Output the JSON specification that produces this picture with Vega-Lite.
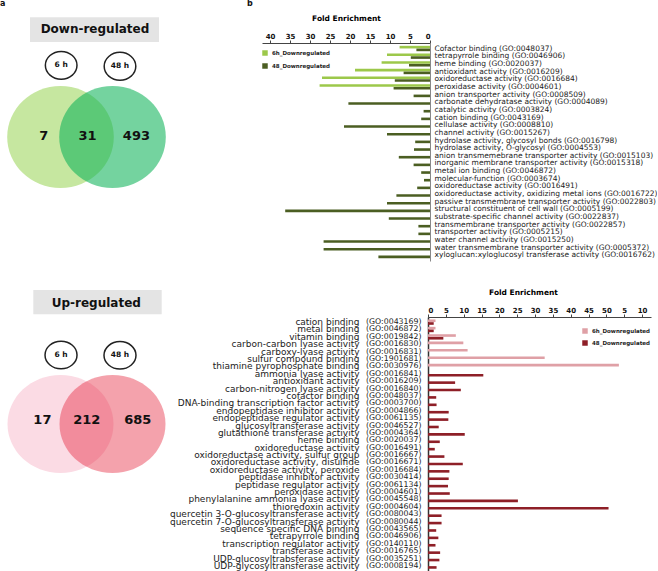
{
  "$schema": "https://vega.github.io/schema/vega-lite/v6.json",
  "padding": 0,
  "background": "white",
  "spacing": 18,
  "config": {"view": {"stroke": null}, "font": "DejaVu Sans"},
  "resolve": {"scale": {"color": "independent"}, "legend": {"color": "independent"}},
  "datasets": {
    "venn_down": [
      {"kind": "box", "x": -1.0865, "x2": 1.394, "y": 2.302, "y2": 1.827},
      {"kind": "title", "label": "Down-regulated", "x": 0.163, "y": 2.071},
      {"kind": "panel", "label": "a", "x": -1.6635, "y": 2.6346},
      {"kind": "panel", "label": "b", "x": 3.087, "y": 2.6346},
      {"kind": "oval", "label": "6 h", "x": -0.487, "y": 1.379},
      {"kind": "oval", "label": "48 h", "x": 0.644, "y": 1.36},
      {"kind": "setL", "label": "6 h", "x": -0.5, "y": 0},
      {"kind": "setR", "label": "48 h", "x": 0.5, "y": 0},
      {"kind": "count", "label": "7", "x": -0.823, "y": 0.019},
      {"kind": "count", "label": "31", "x": 0.019, "y": 0.019},
      {"kind": "count", "label": "493", "x": 0.96, "y": 0.019}
    ],
    "venn_up": [
      {"kind": "box", "x": -1.023, "x2": 1.446, "y": 2.577, "y2": 2.11},
      {"kind": "title", "label": "Up-regulated", "x": 0.188, "y": 2.333},
      {"kind": "oval", "label": "6 h", "x": -0.49, "y": 1.327},
      {"kind": "oval", "label": "48 h", "x": 0.644, "y": 1.321},
      {"kind": "setL", "label": "6 h", "x": -0.5, "y": 0},
      {"kind": "setR", "label": "48 h", "x": 0.5, "y": 0},
      {"kind": "count", "label": "17", "x": -0.848, "y": 0.077},
      {"kind": "count", "label": "212", "x": 0.004, "y": 0.077},
      {"kind": "count", "label": "685", "x": 0.987, "y": 0.077}
    ],
    "go_down": [
      {"term": "Cofactor binding (GO:0048037)", "series": "6h_Downregulated", "fe": 7.6},
      {"term": "Cofactor binding (GO:0048037)", "series": "48_Downregulated", "fe": 3.4},
      {"term": "tetrapyrrole binding (GO:0046906)", "series": "6h_Downregulated", "fe": 10.75},
      {"term": "tetrapyrrole binding (GO:0046906)", "series": "48_Downregulated", "fe": 4.8},
      {"term": "heme binding (GO:0020037)", "series": "6h_Downregulated", "fe": 12.1},
      {"term": "heme binding (GO:0020037)", "series": "48_Downregulated", "fe": 5.25},
      {"term": "antioxidant activity (GO:0016209)", "series": "6h_Downregulated", "fe": 18.75},
      {"term": "antioxidant activity (GO:0016209)", "series": "48_Downregulated", "fe": 6.6},
      {"term": "oxidoreductase activity (GO:0016684)", "series": "6h_Downregulated", "fe": 27.0},
      {"term": "oxidoreductase activity (GO:0016684)", "series": "48_Downregulated", "fe": 8.8},
      {"term": "peroxidase activity (GO:0004601)", "series": "6h_Downregulated", "fe": 27.6},
      {"term": "peroxidase activity (GO:0004601)", "series": "48_Downregulated", "fe": 9.1},
      {"term": "anion transporter activity (GO:0008509)", "series": "48_Downregulated", "fe": 4.1},
      {"term": "carbonate dehydratase activity (GO:0004089)", "series": "48_Downregulated", "fe": 20.4},
      {"term": "catalytic activity (GO:0003824)", "series": "48_Downregulated", "fe": 1.6},
      {"term": "cation binding (GO:0043169)", "series": "48_Downregulated", "fe": 2.2},
      {"term": "cellulase activity (GO:0008810)", "series": "48_Downregulated", "fe": 21.5},
      {"term": "channel activity (GO:0015267)", "series": "48_Downregulated", "fe": 10.75},
      {"term": "hydrolase activity, glycosyl bonds (GO:0016798)", "series": "48_Downregulated", "fe": 3.7},
      {"term": "hydrolase activity, O-glycosyl (GO:0004553)", "series": "48_Downregulated", "fe": 4.0},
      {"term": "anion transmemebrane transporter activity (GO:0015103)", "series": "48_Downregulated", "fe": 7.8},
      {"term": "inorganic membrane transporter activity (GO:0015318)", "series": "48_Downregulated", "fe": 4.1},
      {"term": "metal ion binding (GO:0046872)", "series": "48_Downregulated", "fe": 2.2},
      {"term": "molecular-function (GO:0003674)", "series": "48_Downregulated", "fe": 1.5},
      {"term": "oxidoreductase activity (GO:0016491)", "series": "48_Downregulated", "fe": 3.2},
      {"term": "oxidoreductase activity, oxidizing metal ions (GO:0016722)", "series": "48_Downregulated", "fe": 8.4},
      {"term": "passive transmembrane transporter activity (GO:0022803)", "series": "48_Downregulated", "fe": 10.75},
      {"term": "structural constituent of cell wall (GO:0005199)", "series": "48_Downregulated", "fe": 36.2},
      {"term": "substrate-specific channel activity (GO:0022837)", "series": "48_Downregulated", "fe": 10.3},
      {"term": "transmembrane transporter activity (GO:0022857)", "series": "48_Downregulated", "fe": 2.9},
      {"term": "transporter activity (GO:0005215)", "series": "48_Downregulated", "fe": 2.9},
      {"term": "water channel activity (GO:0015250)", "series": "48_Downregulated", "fe": 26.6},
      {"term": "water transmembrane transporter activity (GO:0005372)", "series": "48_Downregulated", "fe": 26.6},
      {"term": "xyloglucan:xyloglucosyl transferase activity (GO:0016762)", "series": "48_Downregulated", "fe": 12.9}
    ],
    "go_up": [
      {"term": "cation binding (GO:0043169)", "series": "6h_Downregulated", "fe": 2.1},
      {"term": "cation binding (GO:0043169)", "series": "48_Downregulated", "fe": 1.6},
      {"term": "metal binding (GO:0046872)", "series": "6h_Downregulated", "fe": 2.1},
      {"term": "metal binding (GO:0046872)", "series": "48_Downregulated", "fe": 1.6},
      {"term": "vitamin binding (GO:0019842)", "series": "6h_Downregulated", "fe": 7.8},
      {"term": "vitamin binding (GO:0019842)", "series": "48_Downregulated", "fe": 4.3},
      {"term": "carbon-carbon lyase activity (GO:0016830)", "series": "6h_Downregulated", "fe": 9.9},
      {"term": "carboxy-lyase activity (GO:0016831)", "series": "6h_Downregulated", "fe": 11.1},
      {"term": "sulfur compound binding (GO:1901681)", "series": "6h_Downregulated", "fe": 32.7},
      {"term": "thiamine pyrophosphate binding (GO:0030976)", "series": "6h_Downregulated", "fe": 53.5},
      {"term": "ammonia lyase activity (GO:0016841)", "series": "48_Downregulated", "fe": 15.5},
      {"term": "antioxidant activity (GO:0016209)", "series": "48_Downregulated", "fe": 7.6},
      {"term": "carbon-nitrogen lyase activity (GO:0016840)", "series": "48_Downregulated", "fe": 9.2},
      {"term": "cofactor binding (GO:0048037)", "series": "48_Downregulated", "fe": 2.3},
      {"term": "DNA-binding transcription factor activity (GO:0003700)", "series": "48_Downregulated", "fe": 2.4},
      {"term": "endopeptidase inhibitor activity (GO:0004866)", "series": "48_Downregulated", "fe": 5.8},
      {"term": "endopeptidase regulator activity (GO:0061135)", "series": "48_Downregulated", "fe": 5.7},
      {"term": "glucosyltransferase activity (GO:0046527)", "series": "48_Downregulated", "fe": 3.0},
      {"term": "glutathione transferase activity (GO:0004364)", "series": "48_Downregulated", "fe": 10.3},
      {"term": "heme binding (GO:0020037)", "series": "48_Downregulated", "fe": 3.3},
      {"term": "oxidoreductase activity (GO:0016491)", "series": "48_Downregulated", "fe": 1.9},
      {"term": "oxidoreductase activity, sulfur group (GO:0016667)", "series": "48_Downregulated", "fe": 4.6},
      {"term": "oxidoreductase activity, disulfide (GO:0016671)", "series": "48_Downregulated", "fe": 9.75},
      {"term": "oxidoreductase activity, peroxide (GO:0016684)", "series": "48_Downregulated", "fe": 6.0},
      {"term": "peptidase inhibitor activity (GO:0030414)", "series": "48_Downregulated", "fe": 5.8},
      {"term": "peptidase regulator activity (GO:0061134)", "series": "48_Downregulated", "fe": 5.6},
      {"term": "peroxidase activity (GO:0004601)", "series": "48_Downregulated", "fe": 6.1},
      {"term": "phenylalanine ammonia lyase activity (GO:0045548)", "series": "48_Downregulated", "fe": 25.2},
      {"term": "thioredoxin activity (GO:0004604)", "series": "48_Downregulated", "fe": 50.6},
      {"term": "quercetin 3-O-glucosyltransferase activity (GO:0080043)", "series": "48_Downregulated", "fe": 3.8},
      {"term": "quercetin 7-O-glucosyltransferase activity (GO:0080044)", "series": "48_Downregulated", "fe": 3.8},
      {"term": "sequence specific DNA binding (GO:0043565)", "series": "48_Downregulated", "fe": 2.3},
      {"term": "tetrapyrrole binding (GO:0046906)", "series": "48_Downregulated", "fe": 2.9},
      {"term": "transcription regulator activity (GO:0140110)", "series": "48_Downregulated", "fe": 2.1},
      {"term": "transferase activity (GO:0016765)", "series": "48_Downregulated", "fe": 3.4},
      {"term": "UDP-glucosyltrabsferase activity (GO:0035251)", "series": "48_Downregulated", "fe": 3.2},
      {"term": "UDP-glycosyltransferase activity (GO:0008194)", "series": "48_Downregulated", "fe": 2.4}
    ]
  },
  "vconcat": [
    {
      "hconcat": [
        {
          "width": 262,
          "height": 227,
          "data": {"name": "venn_down"},
          "encoding": {
            "x": {"field": "x", "type": "quantitative", "scale": {"domain": [-1.6635, 3.375], "nice": false, "zero": false}, "axis": null},
            "y": {"field": "y", "type": "quantitative", "scale": {"domain": [-2.5577, 1.8077], "nice": false, "zero": false}, "axis": null}
          },
          "layer": [
            {"transform": [{"filter": "datum.kind == 'box'"}], "mark": {"type": "rect", "color": "#e4e4e4"}, "encoding": {"x2": {"field": "x2"}, "y2": {"field": "y2"}}},
            {"transform": [{"filter": "datum.kind == 'title'"}], "mark": {"type": "text", "fontSize": 12, "fontWeight": "bold", "color": "#111", "baseline": "middle"}, "encoding": {"text": {"field": "label"}}},
            {"transform": [{"filter": "datum.kind == 'panel'"}], "mark": {"type": "text", "fontSize": 8, "fontWeight": "bold", "color": "#111", "baseline": "top", "align": "left"}, "encoding": {"text": {"field": "label"}}},
            {"transform": [{"filter": "datum.kind == 'oval'"}], "mark": {"type": "point", "shape": "M-1,0A1,0.88,0,1,1,1,0A1,0.88,0,1,1,-1,0Z", "size": 1000, "filled": false, "stroke": "#222", "strokeWidth": 1.5, "opacity": 1}},
            {"transform": [{"filter": "datum.kind == 'oval'"}], "mark": {"type": "text", "fontSize": 7.5, "fontWeight": "bold", "color": "#111", "baseline": "middle"}, "encoding": {"text": {"field": "label"}}},
            {"transform": [{"filter": "datum.kind == 'setL'"}], "mark": {"type": "point", "shape": "M-1,0A1,0.957,0,1,1,1,0A1,0.957,0,1,1,-1,0Z", "size": 11364, "filled": true, "color": "#c6e7a0", "opacity": 1, "strokeWidth": 0}},
            {"transform": [{"filter": "datum.kind == 'setR'"}], "mark": {"type": "point", "shape": "M-1,0A1,0.957,0,1,1,1,0A1,0.957,0,1,1,-1,0Z", "size": 11364, "filled": true, "color": "#10b35a", "opacity": 0.58, "strokeWidth": 0}},
            {"transform": [{"filter": "datum.kind == 'count'"}], "mark": {"type": "text", "fontSize": 13, "fontWeight": "bold", "color": "#111", "baseline": "middle"}, "encoding": {"text": {"field": "label"}}}
          ]
        },
        {
          "width": 168,
          "height": 218,
          "data": {"name": "go_down"},
          "mark": {"type": "bar"},
          "encoding": {
            "y": {"field": "term", "type": "nominal", "sort": null, "scale": {"paddingInner": 0.3, "paddingOuter": 0.37},
              "axis": {"orient": "right", "title": null, "labelFontSize": 7.5, "labelLimit": 500, "ticks": false, "labelPadding": 4, "domainColor": "#888", "labelColor": "#222", "labelOverlap": false}},
            "x": {"field": "fe", "type": "quantitative", "scale": {"domain": [0, 42], "reverse": true, "nice": false},
              "axis": {"orient": "top", "title": "Fold Enrichment", "titleFontSize": 7.5, "titleFontWeight": "bold", "titleBaseline": "middle", "titleY": -25, "values": [0, 5, 10, 15, 20, 25, 30, 35, 40], "labelFontSize": 7, "labelFontWeight": "bold", "labelColor": "#111", "labelPadding": 1, "tickSize": 3, "tickColor": "#444", "domainColor": "#444", "grid": false, "labelOverlap": false}},
            "yOffset": {"field": "series", "type": "nominal", "sort": ["6h_Downregulated", "48_Downregulated"], "scale": {"domain": ["6h_Downregulated", "48_Downregulated"], "paddingInner": 0.05}},
            "color": {"field": "series", "type": "nominal", "scale": {"domain": ["6h_Downregulated", "48_Downregulated"], "range": ["#9cc84a", "#4b5e22"]},
              "legend": {"orient": "none", "legendX": 262, "legendY": 7, "title": null, "symbolType": "square", "symbolSize": 30, "symbolStrokeWidth": 0, "labelFontSize": 5.5, "labelFontWeight": "bold", "labelColor": "#222", "rowPadding": 6}}
          }
        }
      ],
      "spacing": 0,
      "bounds": "flush"
    },
    {
      "hconcat": [
        {
          "width": 428,
          "height": 254,
          "data": {"name": "venn_up"},
          "encoding": {
            "x": {"field": "x", "type": "quantitative", "scale": {"domain": [-1.6635, 6.5673], "nice": false, "zero": false}, "axis": null},
            "y": {"field": "y", "type": "quantitative", "scale": {"domain": [-2.8269, 2.0577], "nice": false, "zero": false}, "axis": null}
          },
          "layer": [
            {"transform": [{"filter": "datum.kind == 'box'"}], "mark": {"type": "rect", "color": "#e4e4e4"}, "encoding": {"x2": {"field": "x2"}, "y2": {"field": "y2"}}},
            {"transform": [{"filter": "datum.kind == 'title'"}], "mark": {"type": "text", "fontSize": 12, "fontWeight": "bold", "color": "#111", "baseline": "middle"}, "encoding": {"text": {"field": "label"}}},
            {"transform": [{"filter": "datum.kind == 'oval'"}], "mark": {"type": "point", "shape": "M-1,0A1,0.86,0,1,1,1,0A1,0.86,0,1,1,-1,0Z", "size": 1024, "filled": false, "stroke": "#222", "strokeWidth": 1.5, "opacity": 1}},
            {"transform": [{"filter": "datum.kind == 'oval'"}], "mark": {"type": "text", "fontSize": 7.5, "fontWeight": "bold", "color": "#111", "baseline": "middle"}, "encoding": {"text": {"field": "label"}}},
            {"transform": [{"filter": "datum.kind == 'setL'"}], "mark": {"type": "point", "shape": "M-1,0A1,0.925,0,1,1,1,0A1,0.925,0,1,1,-1,0Z", "size": 11236, "filled": true, "color": "#fbdbe4", "opacity": 1, "strokeWidth": 0}},
            {"transform": [{"filter": "datum.kind == 'setR'"}], "mark": {"type": "point", "shape": "M-1,0A1,0.925,0,1,1,1,0A1,0.925,0,1,1,-1,0Z", "size": 11236, "filled": true, "color": "#e41932", "opacity": 0.405, "strokeWidth": 0}},
            {"transform": [{"filter": "datum.kind == 'count'"}], "mark": {"type": "text", "fontSize": 13, "fontWeight": "bold", "color": "#111", "baseline": "middle"}, "encoding": {"text": {"field": "label"}}}
          ]
        },
        {
          "width": 223,
          "height": 254,
          "data": {"name": "go_up"},
          "encoding": {
            "x": {"field": "fe", "type": "quantitative", "scale": {"domain": [0, 62.5], "nice": false},
              "axis": {"orient": "top", "title": "Fold Enrichment", "titleFontSize": 7.5, "titleFontWeight": "bold", "titleBaseline": "middle", "titleY": -25, "titleX": 95, "values": [0, 5, 10, 15, 20, 25, 30, 35, 40, 45, 50, 55, 60], "labelExpr": "datum.value > 50 ? datum.value - 50 : datum.value", "labelFontSize": 7, "labelFontWeight": "bold", "labelColor": "#111", "labelPadding": 1, "tickSize": 3, "tickColor": "#444", "domainColor": "#444", "grid": false, "labelOverlap": false}},
            "yOffset": {"field": "series", "type": "nominal", "sort": ["6h_Downregulated", "48_Downregulated"], "scale": {"domain": ["6h_Downregulated", "48_Downregulated"], "paddingInner": 0.05}},
            "color": {"field": "series", "type": "nominal", "scale": {"domain": ["6h_Downregulated", "48_Downregulated"], "range": ["#dfa0a6", "#8e1f27"]},
              "legend": {"orient": "none", "legendX": 582, "legendY": 11, "title": null, "symbolType": "square", "symbolSize": 30, "symbolStrokeWidth": 0, "labelFontSize": 5.5, "labelFontWeight": "bold", "labelColor": "#222", "rowPadding": 5}}
          },
          "layer": [
            {
              "mark": {"type": "bar"},
              "encoding": {
                "y": {"field": "term", "type": "nominal", "sort": null, "scale": {"paddingInner": 0.3, "paddingOuter": 0.33},
                  "axis": {"orient": "left", "title": null, "labelExpr": "substring(datum.label, indexof(datum.label, '(GO'))", "labelFontSize": 7.8, "labelLimit": 500, "ticks": false, "labelPadding": 7, "domainColor": "#333", "domainWidth": 1.5, "labelColor": "#222", "labelOverlap": false}}
              }
            },
            {
              "mark": {"type": "bar", "opacity": 0},
              "encoding": {
                "y": {"field": "term", "type": "nominal", "sort": null,
                  "axis": {"orient": "left", "offset": 69, "title": null, "labelExpr": "substring(datum.label, 0, indexof(datum.label, ' (GO'))", "labelFontSize": 9, "labelLimit": 500, "ticks": false, "domain": false, "labelPadding": 0, "labelColor": "#222", "labelOverlap": false}}
              }
            }
          ],
          "resolve": {"axis": {"y": "independent"}}
        }
      ],
      "spacing": 0,
      "bounds": "flush"
    }
  ]
}
